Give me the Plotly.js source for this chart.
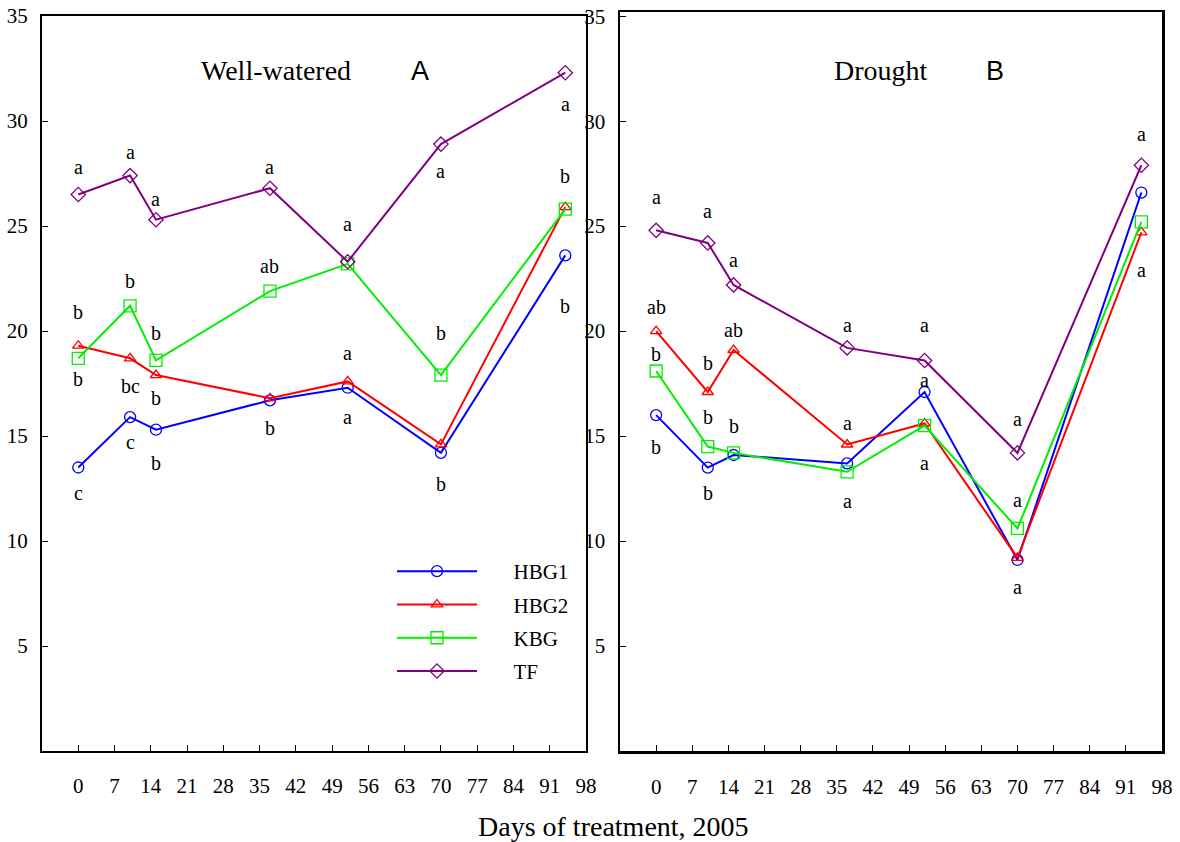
<!DOCTYPE html>
<html>
<head>
<meta charset="utf-8">
<script src="https://cdn.plot.ly/plotly-3.0.1.min.js"></script>
<style>html,body{margin:0;padding:0;background:#fff;}#chart{width:1180px;height:842px;}</style>
</head>
<body>
<div id="chart"></div>
<script>
// ---- data ----
const days = [0, 10, 15, 37, 52, 70, 94];
const seriesNames = ['HBG1', 'HBG2', 'KBG', 'TF'];

// Panel A: Well-watered
const hbg1A = [13.5, 15.9, 15.3, 16.7, 17.3, 14.2, 23.6];
const hbg2A = [19.3, 18.7, 17.9, 16.8, 17.6, 14.6, 25.9];
const kbgA  = [18.7, 21.2, 18.6, 21.9, 23.2, 17.9, 25.8];
const tfA   = [26.5, 27.4, 25.3, 26.8, 23.3, 28.9, 32.3];

// Panel B: Drought
const hbg1B = [16.0, 13.5, 14.1, 13.7, 17.1, 9.1, 26.6];
const hbg2B = [20.0, 17.1, 19.1, 14.6, 15.6, 9.2, 24.7];
const kbgB  = [18.1, 14.5, 14.2, 13.3, 15.5, 10.6, 25.2];
const tfB   = [24.8, 24.2, 22.2, 19.2, 18.6, 14.2, 27.9];

// significance letters (day, value where letter sits, text)
const lettersADay  = [0, 0, 0, 0, 10, 10, 10, 10, 15, 15, 15, 15, 37, 37, 37, 52, 52, 52, 70, 70, 70, 94, 94, 94];
const lettersAVal  = [27.8, 20.9, 17.7, 12.3, 28.5, 22.4, 17.4, 14.7, 26.3, 19.9, 16.8, 13.7, 27.8, 23.1, 15.4, 25.1, 18.95, 15.9, 27.6, 19.9, 12.7, 30.8, 27.4, 21.2];
const lettersAText = ['a', 'b', 'b', 'c', 'a', 'b', 'bc', 'c', 'a', 'b', 'b', 'b', 'a', 'ab', 'b', 'a', 'a', 'a', 'a', 'b', 'b', 'a', 'b', 'b'];

const lettersBDay  = [0, 0, 0, 0, 10, 10, 10, 10, 15, 15, 15, 37, 37, 37, 52, 52, 52, 70, 70, 70, 94, 94];
const lettersBVal  = [26.4, 21.15, 18.9, 14.5, 25.7, 18.5, 15.9, 12.3, 23.4, 20.05, 15.5, 20.3, 15.6, 11.9, 20.3, 17.67, 13.73, 15.8, 11.95, 7.8, 29.37, 22.9];
const lettersBText = ['a', 'ab', 'b', 'b', 'a', 'b', 'b', 'b', 'a', 'ab', 'b', 'a', 'a', 'a', 'a', 'a', 'a', 'a', 'a', 'a', 'a', 'a'];

const xTickVals = [0, 7, 14, 21, 28, 35, 42, 49, 56, 63, 70, 77, 84, 91, 98];
const yTickVals = [5, 10, 15, 20, 25, 30, 35];

// ---- styles ----
const colors = ['#0000ff', '#ff0000', '#00ee00', '#800080'];
const symbols = ['circle-open', 'triangle-up-open', 'square-open', 'diamond-open'];
const sizes = [11, 10, 12, 11];
const serif = "'Liberation Serif', 'Times New Roman', serif";
const legendPad = '\u00a0\u00a0\u00a0\u00a0\u00a0\u00a0';

const dataA = [hbg1A, hbg2A, kbgA, tfA];
const dataB = [hbg1B, hbg2B, kbgB, tfB];

const traces = [];
dataA.forEach((ys, i) => {
  traces.push({
    x: days, y: ys, xaxis: 'x', yaxis: 'y', type: 'scatter', mode: 'lines+markers',
    name: legendPad + seriesNames[i], legendgroup: seriesNames[i], showlegend: true,
    line: {color: colors[i], width: 2},
    marker: {symbol: symbols[i], size: sizes[i], color: colors[i], line: {width: 1.3, color: colors[i]}},
    hoverinfo: 'x+y'
  });
});
dataB.forEach((ys, i) => {
  traces.push({
    x: days, y: ys, xaxis: 'x2', yaxis: 'y2', type: 'scatter', mode: 'lines+markers',
    name: seriesNames[i], legendgroup: seriesNames[i], showlegend: false,
    line: {color: colors[i], width: 2},
    marker: {symbol: symbols[i], size: sizes[i], color: colors[i], line: {width: 1.3, color: colors[i]}},
    hoverinfo: 'x+y'
  });
});

const annotations = [];
lettersADay.forEach((d, i) => {
  annotations.push({x: d, y: lettersAVal[i], xref: 'x', yref: 'y', text: lettersAText[i],
    showarrow: false, font: {family: serif, size: 20, color: '#000'}});
});
lettersBDay.forEach((d, i) => {
  annotations.push({x: d, y: lettersBVal[i], xref: 'x2', yref: 'y2', text: lettersBText[i],
    showarrow: false, font: {family: serif, size: 20, color: '#000'}});
});
// panel titles
annotations.push({xref: 'paper', yref: 'paper', x: 276/1180, y: 1 - 70/842, text: 'Well-watered',
  showarrow: false, xanchor: 'center', yanchor: 'middle', font: {family: serif, size: 28, color: '#000'}});
annotations.push({xref: 'paper', yref: 'paper', x: 420/1180, y: 1 - 71/842, text: 'A',
  showarrow: false, xanchor: 'center', yanchor: 'middle', font: {family: "'Liberation Sans', Arial, sans-serif", size: 27, color: '#000'}});
annotations.push({xref: 'paper', yref: 'paper', x: 881/1180, y: 1 - 70/842, text: 'Drought',
  showarrow: false, xanchor: 'center', yanchor: 'middle', font: {family: serif, size: 28, color: '#000'}});
annotations.push({xref: 'paper', yref: 'paper', x: 995/1180, y: 1 - 71/842, text: 'B',
  showarrow: false, xanchor: 'center', yanchor: 'middle', font: {family: "'Liberation Sans', Arial, sans-serif", size: 27, color: '#000'}});
// shared x title
annotations.push({xref: 'paper', yref: 'paper', x: 613/1180, y: 1 - 826/842, text: 'Days of treatment, 2005',
  showarrow: false, xanchor: 'center', yanchor: 'middle', font: {family: serif, size: 28, color: '#000'}});

function xAxis(domain, lw) {
  return {
    domain: domain, range: [-7, 98], tickmode: 'array', tickvals: xTickVals,
    ticktext: xTickVals.map(String), ticks: 'inside', ticklen: 6, tickwidth: 1, tickcolor: '#000',
    showline: true, linecolor: '#000', linewidth: lw, mirror: true, showgrid: false, zeroline: false,
    ticklabelstandoff: 15, tickfont: {family: serif, size: 21, color: '#000'}, fixedrange: true
  };
}
function yAxis(domain, range, anchor, lw) {
  return {
    domain: domain, range: range, anchor: anchor, tickmode: 'array', tickvals: yTickVals,
    ticktext: yTickVals.map(String), ticks: 'inside', ticklen: 6, tickwidth: 1, tickcolor: '#000',
    showline: true, linecolor: '#000', linewidth: lw, mirror: true, showgrid: false, zeroline: false,
    ticklabelstandoff: 8, tickfont: {family: serif, size: 21, color: '#000'}, fixedrange: true
  };
}

const yBottom = 1 - 751/842;
const layout = {
  width: 1180, height: 842,
  margin: {l: 0, r: 0, t: 0, b: 0, pad: 0},
  paper_bgcolor: '#fff', plot_bgcolor: '#fff',
  showlegend: true,
  xaxis: Object.assign(xAxis([42/1180, 586/1180], 2), {anchor: 'y'}),
  yaxis: yAxis([yBottom, 1 - 16/842], [0, 35], 'x', 2),
  xaxis2: Object.assign(xAxis([620/1180, 1162/1180], 2.5), {anchor: 'y2'}),
  yaxis2: yAxis([yBottom, 1 - 12/842], [0, 35.2], 'x2', 2.5),
  legend: {
    x: 392/1180, y: 1 - 551/842, xanchor: 'left', yanchor: 'top',
    bgcolor: 'rgba(0,0,0,0)', borderwidth: 0, tracegroupgap: 3, itemwidth: 80,
    font: {family: serif, size: 21, color: '#000'}
  },
  annotations: annotations
};

Plotly.newPlot('chart', traces, layout, {displayModeBar: false, staticPlot: true});
</script>
</body>
</html>
